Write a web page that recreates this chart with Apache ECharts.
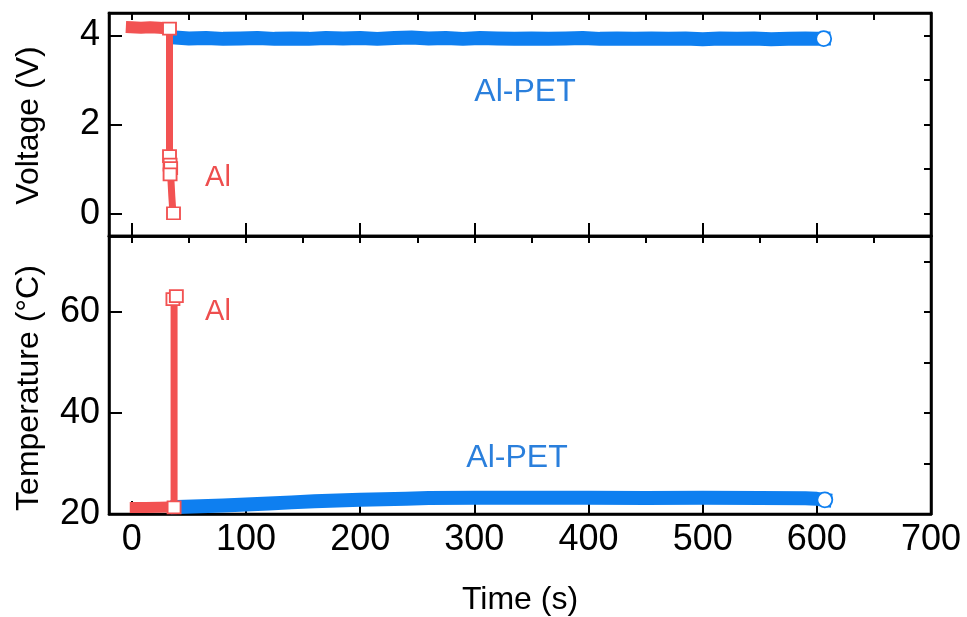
<!DOCTYPE html>
<html>
<head>
<meta charset="utf-8">
<title>Voltage / Temperature vs Time</title>
<script src="https://cdn.jsdelivr.net/npm/echarts@6/dist/echarts.min.js"></script>
<style>
  html, body { margin: 0; padding: 0; background: #fff; }
  #chart { width: 967px; height: 617px; }
</style>
</head>
<body>
<div id="chart"></div>
<script>
// 颜色
const red = "#f25252";
const blue = "#0e7ff0";

// Al 电压：平台段 / 下跌段 / 空心方块
const alVoltBand = [[0, 4.18], [8, 4.17], [16, 4.18], [24, 4.17], [33, 4.15]];
const alVoltDrop = [[33, 4.15], [33, 2.8], [33, 1.45], [33.5, 1.29], [34, 1.02], [34, 0.88], [35, 0.4], [36, 0.01]];
const alVoltMarks = [[33, 4.15], [33, 1.29], [33.5, 1.1], [34, 1.02], [33.5, 0.88], [36.5, 0.01]];

// Al-PET 电压
const petVoltTime = [38, 50, 65, 80, 95, 110, 125, 140, 155, 170, 185, 200, 215, 230, 245, 260, 275, 290, 305, 320,
  335, 350, 365, 380, 395, 410, 425, 440, 455, 470, 485, 500, 515, 530, 545, 560, 575, 590, 600, 606];
const petVoltValue = [3.95, 3.93, 3.94, 3.92, 3.93, 3.94, 3.92, 3.93, 3.92, 3.94, 3.93, 3.94, 3.92, 3.94, 3.95, 3.93, 3.94, 3.92, 3.94, 3.93,
  3.92, 3.93, 3.92, 3.93, 3.94, 3.92, 3.93, 3.92, 3.93, 3.92, 3.93, 3.91, 3.93, 3.92, 3.93, 3.91, 3.92, 3.93, 3.92, 3.925];

// Al 温度
const alTempBand = [[3, 21.3], [12, 21.3], [24, 21.35], [36, 21.4]];
const alTempRise = [[37, 21.6], [37, 35], [37, 50], [37, 61.4]];
const alTempMarks = [[37, 21.3], [36, 62.5], [39, 63.1]];

// Al-PET 温度
const petTempTime = [40, 60, 80, 100, 120, 140, 160, 180, 200, 220, 240, 260, 300, 350, 400, 450, 500, 550, 590, 600, 607];
const petTempValue = [21.4, 21.55, 21.7, 21.9, 22.1, 22.3, 22.5, 22.65, 22.8, 22.9, 23.0, 23.15, 23.2, 23.2, 23.2, 23.15, 23.2, 23.15, 23.1, 23.0, 22.8];

// 轴范围
const timeRange = [-20, 700];
const voltRange = [-0.5, 4.5];
const tempRange = [20, 75];

const zip = (xs, ys) => xs.map((x, i) => [x, ys[i]]);

const tickFont = "Liberation Sans";
const axisLineStyle = { color: "#000", width: 2.5 };

// 主刻度 / 次刻度 两套轴叠加
function xAxisPair(gridIndex, withLabel) {
  const base = {
    gridIndex,
    type: "value",
    min: timeRange[0],
    max: timeRange[1],
    axisLine: { show: true, onZero: false, lineStyle: axisLineStyle },
    splitLine: { show: false },
  };
  return [
    {
      ...base,
      splitNumber: 7,
      axisTick: { show: true, inside: true, length: 13, lineStyle: { color: "#000", width: 2 } },
      axisLabel: {
        show: withLabel,
        showMinLabel: false,
        color: "#000",
        fontFamily: tickFont,
        fontSize: 36,
        margin: 8,
      },
      name: withLabel ? "Time (s)" : "",
      nameLocation: "middle",
      nameGap: 70,
      nameTextStyle: { color: "#000", fontFamily: tickFont, fontSize: 32 },
    },
    {
      ...base,
      splitNumber: 14,
      axisTick: { show: true, inside: true, length: 7, lineStyle: { color: "#000", width: 2 } },
      axisLabel: { show: false },
    },
  ];
}

function yAxisPair(gridIndex, range, major, minor, showMin, name, namePad) {
  const base = {
    gridIndex,
    type: "value",
    min: range[0],
    max: range[1],
    axisLine: { show: true, onZero: false, lineStyle: axisLineStyle },
    splitLine: { show: false },
  };
  return [
    {
      ...base,
      ...major,
      axisTick: { show: true, inside: true, length: 13, lineStyle: { color: "#000", width: 2 } },
      axisLabel: {
        showMinLabel: showMin,
        showMaxLabel: false,
        color: "#000",
        fontFamily: tickFont,
        fontSize: 36,
        margin: 9,
      },
      name,
      nameLocation: "middle",
      nameGap: 64,
      nameRotate: 90,
      nameTextStyle: { color: "#000", fontFamily: tickFont, fontSize: 32, padding: namePad },
    },
    {
      ...base,
      ...minor,
      axisTick: { show: true, inside: true, length: 7, lineStyle: { color: "#000", width: 2 } },
      axisLabel: { show: false },
    },
  ];
}

const bandLine = (name, data, color, width, x, y) => ({
  name,
  type: "line",
  xAxisIndex: x,
  yAxisIndex: y,
  data,
  showSymbol: false,
  symbol: "none",
  z: 2,
  lineStyle: { color, width, cap: "square", join: "round" },
  silent: true,
});

const hollowMarks = (name, data, color, symbol, size, x, y) => ({
  name,
  type: "scatter",
  xAxisIndex: x,
  yAxisIndex: y,
  data,
  symbol,
  symbolSize: size,
  z: 10,
  itemStyle: { color: "#fff", borderColor: color, borderWidth: 1.8, opacity: 1 },
  silent: true,
});

const label = (text, x, y, color, size) => ({
  type: "text",
  x,
  y,
  style: {
    text,
    fill: color,
    font: `${size}px "Liberation Sans", Arial, sans-serif`,
    align: "center",
    verticalAlign: "middle",
  },
});

const petVolt = zip(petVoltTime, petVoltValue);
const petTemp = zip(petTempTime, petTempValue);

const option = {
  animation: false,
  backgroundColor: "#fff",
  grid: [
    { left: 109, right: 36, top: 13, height: 223, show: true, borderColor: "#000", borderWidth: 2.5, backgroundColor: "transparent" },
    { left: 109, right: 36, top: 236, height: 278, show: true, borderColor: "#000", borderWidth: 2.5, backgroundColor: "transparent" },
  ],
  xAxis: [...xAxisPair(0, false), ...xAxisPair(1, true)],
  yAxis: [
    ...yAxisPair(0, voltRange, { splitNumber: 3 }, { splitNumber: 5 }, false, "Voltage (V)", [0, 2, 0, 0]),
    ...yAxisPair(1, tempRange, { interval: 20 }, { interval: 10 }, true, "Temperature (°C)", [0, 26, 0, 0]),
  ],
  series: [
    // 上：电压
    bandLine("Al-PET V", petVolt, blue, 14, 0, 0),
    bandLine("Al V", alVoltBand, red, 12, 0, 0),
    bandLine("Al V drop", alVoltDrop, red, 7, 0, 0),
    hollowMarks("Al V pts", alVoltMarks, red, "rect", [13, 12], 0, 0),
    hollowMarks("Al-PET V end", [petVolt[petVolt.length - 1]], blue, "circle", 15, 0, 0),
    // 下：温度
    bandLine("Al-PET T", petTemp, blue, 14, 2, 2),
    bandLine("Al T", alTempBand, red, 11, 2, 2),
    bandLine("Al T rise", alTempRise, red, 7, 2, 2),
    hollowMarks("Al T pts", alTempMarks, red, "rect", [13, 12], 2, 2),
    hollowMarks("Al-PET T end", [petTemp[petTemp.length - 1]], blue, "circle", 15, 2, 2),
  ],
  graphic: [
    label("Al", 218, 178, "#ee4e4e", 29),
    label("Al-PET", 525, 92, "#2a7fdc", 32),
    label("Al", 218, 312, "#ee4e4e", 29),
    label("Al-PET", 517, 458, "#2a7fdc", 32),
  ],
};

const myChart = echarts.init(document.getElementById("chart"));
myChart.setOption(option);
window.addEventListener("resize", () => {
  myChart.resize();
});
</script>
</body>
</html>
